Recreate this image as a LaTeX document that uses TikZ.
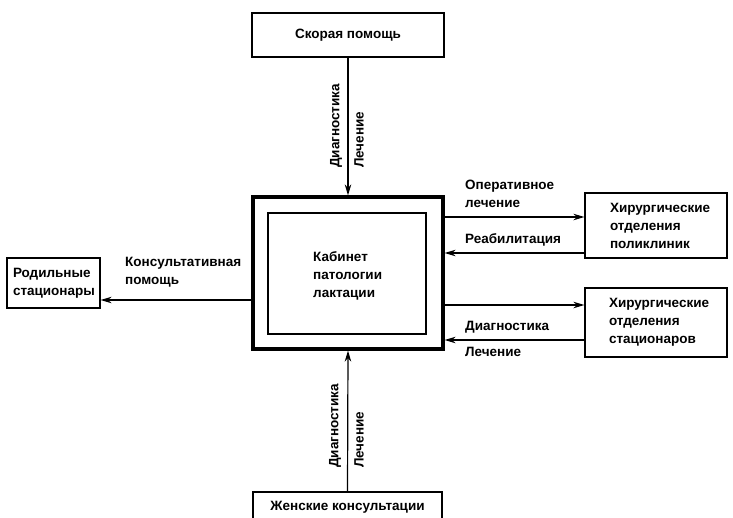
\documentclass[tikz,border=0pt]{standalone}
\usepackage{fontspec}
\setmainfont{Liberation Sans}
\usetikzlibrary{arrows.meta,calc}
\begin{document}
\begin{tikzpicture}[x=1pt,y=-1pt,
  txt/.style={font=\fontsize{13.5}{18}\bfseries\selectfont},
  lbl/.style={txt, inner sep=0pt, align=left},
  box/.style={txt, draw, line width=1.2pt, inner ysep=0pt, align=left},
  arr/.style={line width=1.2pt, -{Stealth[length=11pt,width=6.5pt,inset=3.5pt]}},
]
\useasboundingbox (0,0) rectangle (733,517);

% boxes
\node[box, minimum width=192pt, minimum height=44pt, align=center] (ambul) at (348,35) {Скорая помощь};
\node[draw, line width=3.2pt, minimum width=190pt, minimum height=152pt, inner sep=0pt] (main) at (348,273) {};
\node[draw, line width=1.2pt, minimum width=158pt, minimum height=121pt, inner sep=0pt] (inner) at (347,273.5) {};
\node[lbl, anchor=west] (maintext) at (313,276) {Кабинет\\патологии\\лактации};
\node[box, minimum width=93pt, minimum height=50pt, text width=81pt, inner xsep=6pt] (roddom) at (53.5,283) {Родильные\\стационары};
\node[box, minimum width=142pt, minimum height=65pt, text width=92pt, inner xsep=25pt] (poly) at (656,225.5) {Хирургические\\отделения\\поликлиник};
\node[box, minimum width=142pt, minimum height=69pt, text width=94pt, inner xsep=24pt] (stat) at (656,322.5) {Хирургические\\отделения\\стационаров};
\node[box, minimum width=189pt, minimum height=30pt, align=center] (women) at (347.5,507) {Женские консультации};

% connectors
\draw[arr] (ambul.south) -- (main.north);
\draw[arr] (women.north) -- (main.south);
\draw[arr] ($(main.west)+(0,27)$) -- ($(roddom.east)+(0,17)$);
\draw[arr] ($(main.east)+(0,-56)$) -- ($(poly.west)+(0,-8.5)$);
\draw[arr] ($(poly.west)+(0,27.5)$) -- ($(main.east)+(0,-20)$);
\draw[arr] ($(main.east)+(0,32)$) -- ($(stat.west)+(0,-17.5)$);
\draw[arr] ($(stat.west)+(0,17.5)$) -- ($(main.east)+(0,67)$);

% connector labels
\node[lbl, rotate=90, anchor=west] (diagtop) at (336,168) {Диагностика};
\node[lbl, rotate=90, anchor=west] (lechtop) at (359,168) {Лечение};
\node[lbl, rotate=90, anchor=west] (diagbot) at (335,468) {Диагностика};
\node[lbl, rotate=90, anchor=west] (lechbot) at (359,468) {Лечение};
\node[lbl, anchor=west] (consult) at (125,272) {Консультативная\\помощь};
\node[lbl, anchor=west] (operat) at (465,194) {Оперативное\\лечение};
\node[lbl, anchor=west] (rehab) at (465,240) {Реабилитация};
\node[lbl, anchor=west] (diagr) at (465,327) {Диагностика};
\node[lbl, anchor=west] (lechr) at (465,352) {Лечение};
\end{tikzpicture}
\end{document}
